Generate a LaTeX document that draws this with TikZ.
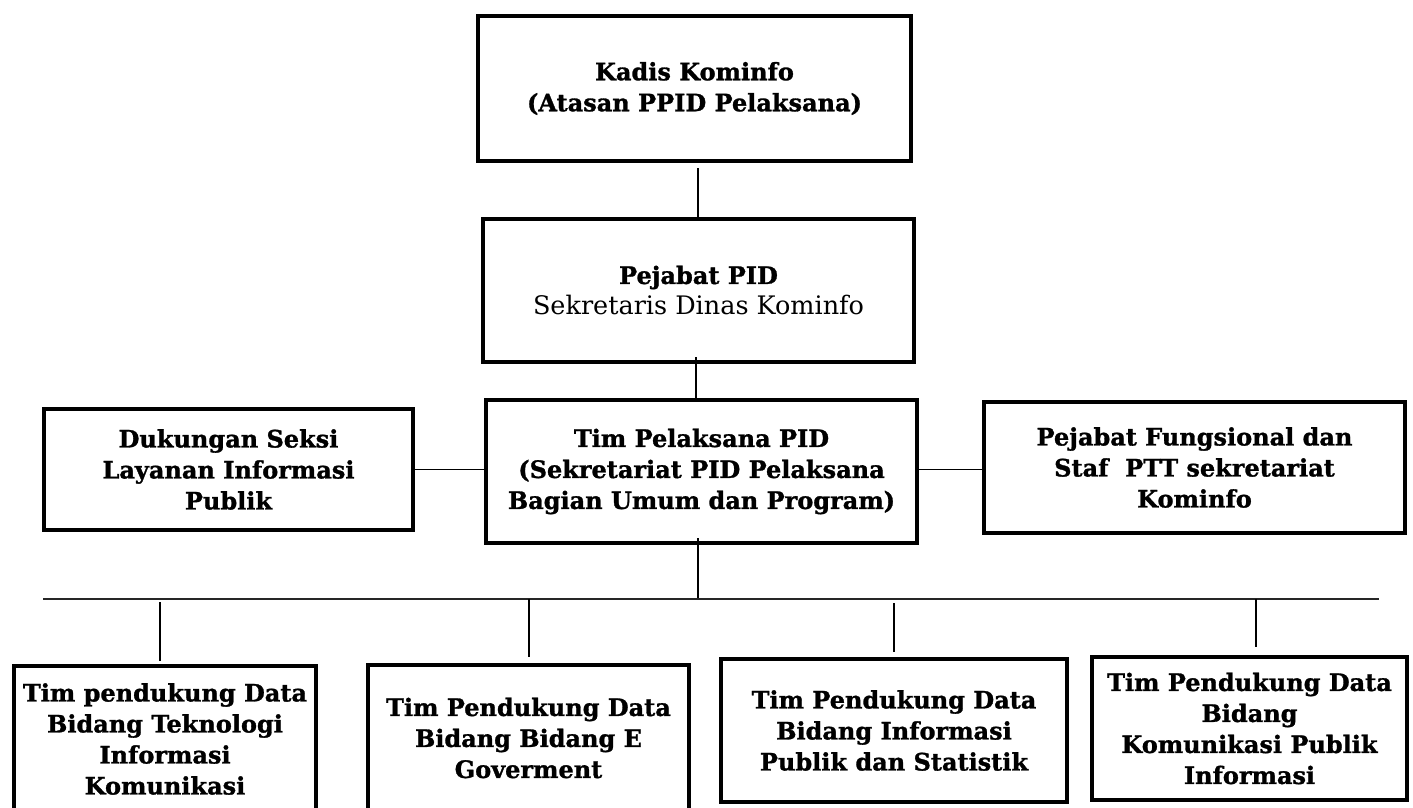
\documentclass[tikz,border=0pt]{standalone}
\usepackage{fontspec}
\setmainfont{DejaVu Serif}[BoldFeatures={FakeBold=1.2}]
\begin{document}
\begin{tikzpicture}[x=1pt,y=-1pt,
  box/.style={draw, line width=4pt, rectangle, inner sep=0pt, align=center,
    font=\fontsize{24}{31}\selectfont\bfseries},
  conn/.style={line width=1.4pt},
  bus/.style={line width=1.4pt, black!85}]
\useasboundingbox (0,0) rectangle (1413,807);

% top chain
\node[box, minimum width=433pt, minimum height=145pt] (kadis) at (694.5,88.5)
  {Kadis Kominfo\\(Atasan PPID Pelaksana)};
\node[box, minimum width=431pt, minimum height=143pt] (pejabat) at (698.5,290.5)
  {Pejabat PID\\{\mdseries\fontsize{25.5}{31}\selectfont Sekretaris Dinas Kominfo}};
\node[box, minimum width=431pt, minimum height=143pt] (tim) at (701.5,471.5)
  {Tim Pelaksana PID\\(Sekretariat PID Pelaksana\\Bagian Umum dan Program)};

% side boxes
\node[box, minimum width=369pt, minimum height=121pt] (duk) at (228.5,469.5)
  {Dukungan Seksi\\Layanan Informasi\\Publik};
\node[box, minimum width=421pt, minimum height=131pt] (fung) at (1194.5,467.5)
  {Pejabat Fungsional dan\\Staf\ \ PTT sekretariat\\Kominfo};

% bottom boxes
\node[box, minimum width=302pt, minimum height=146pt] (b1) at (165,739)
  {Tim pendukung Data\\Bidang Teknologi\\Informasi\\Komunikasi};
\node[box, minimum width=321pt, minimum height=146pt] (b2) at (528.5,738)
  {Tim Pendukung Data\\Bidang Bidang E\\Goverment};
\node[box, minimum width=346pt, minimum height=143pt] (b3) at (894,730.5)
  {Tim Pendukung Data\\Bidang Informasi\\Publik dan Statistik};
\node[box, minimum width=315pt, minimum height=143pt] (b4) at (1249.5,728.5)
  {Tim Pendukung Data\\Bidang\\Komunikasi Publik\\Informasi};

% bus
\coordinate (busL) at (43,599);
\coordinate (busR) at (1379,599);

% connectors
\draw[conn] ([xshift=3.5pt,yshift=-5pt]kadis.south) -- ([xshift=-0.5pt]pejabat.north);
\draw[conn] ([xshift=-2.5pt,yshift=7pt]pejabat.south) -- ([xshift=-5.5pt]tim.north);
\draw[conn] (duk.east) -- (duk.east -| tim.west);
\draw[conn] ([yshift=2pt]tim.east) -- ([yshift=2pt]tim.east -| fung.west);
\draw[conn] ([xshift=-3.5pt,yshift=7pt]tim.south) -- ([xshift=-3.5pt]tim.south |- busL);
\draw[bus] (busL) -- (busR);
\draw[conn] ([xshift=-5pt,yshift=-3pt]b1.north |- busL) -- ([xshift=-5pt,yshift=3pt]b1.north);
\draw[conn] ([xshift=0.5pt]b2.north |- busL) -- ([xshift=0.5pt,yshift=6pt]b2.north);
\draw[conn] ([yshift=-4pt]b3.north |- busL) -- ([yshift=5pt]b3.north);
\draw[conn] ([xshift=6.5pt]b4.north |- busL) -- ([xshift=6.5pt,yshift=8pt]b4.north);
\end{tikzpicture}
\end{document}
